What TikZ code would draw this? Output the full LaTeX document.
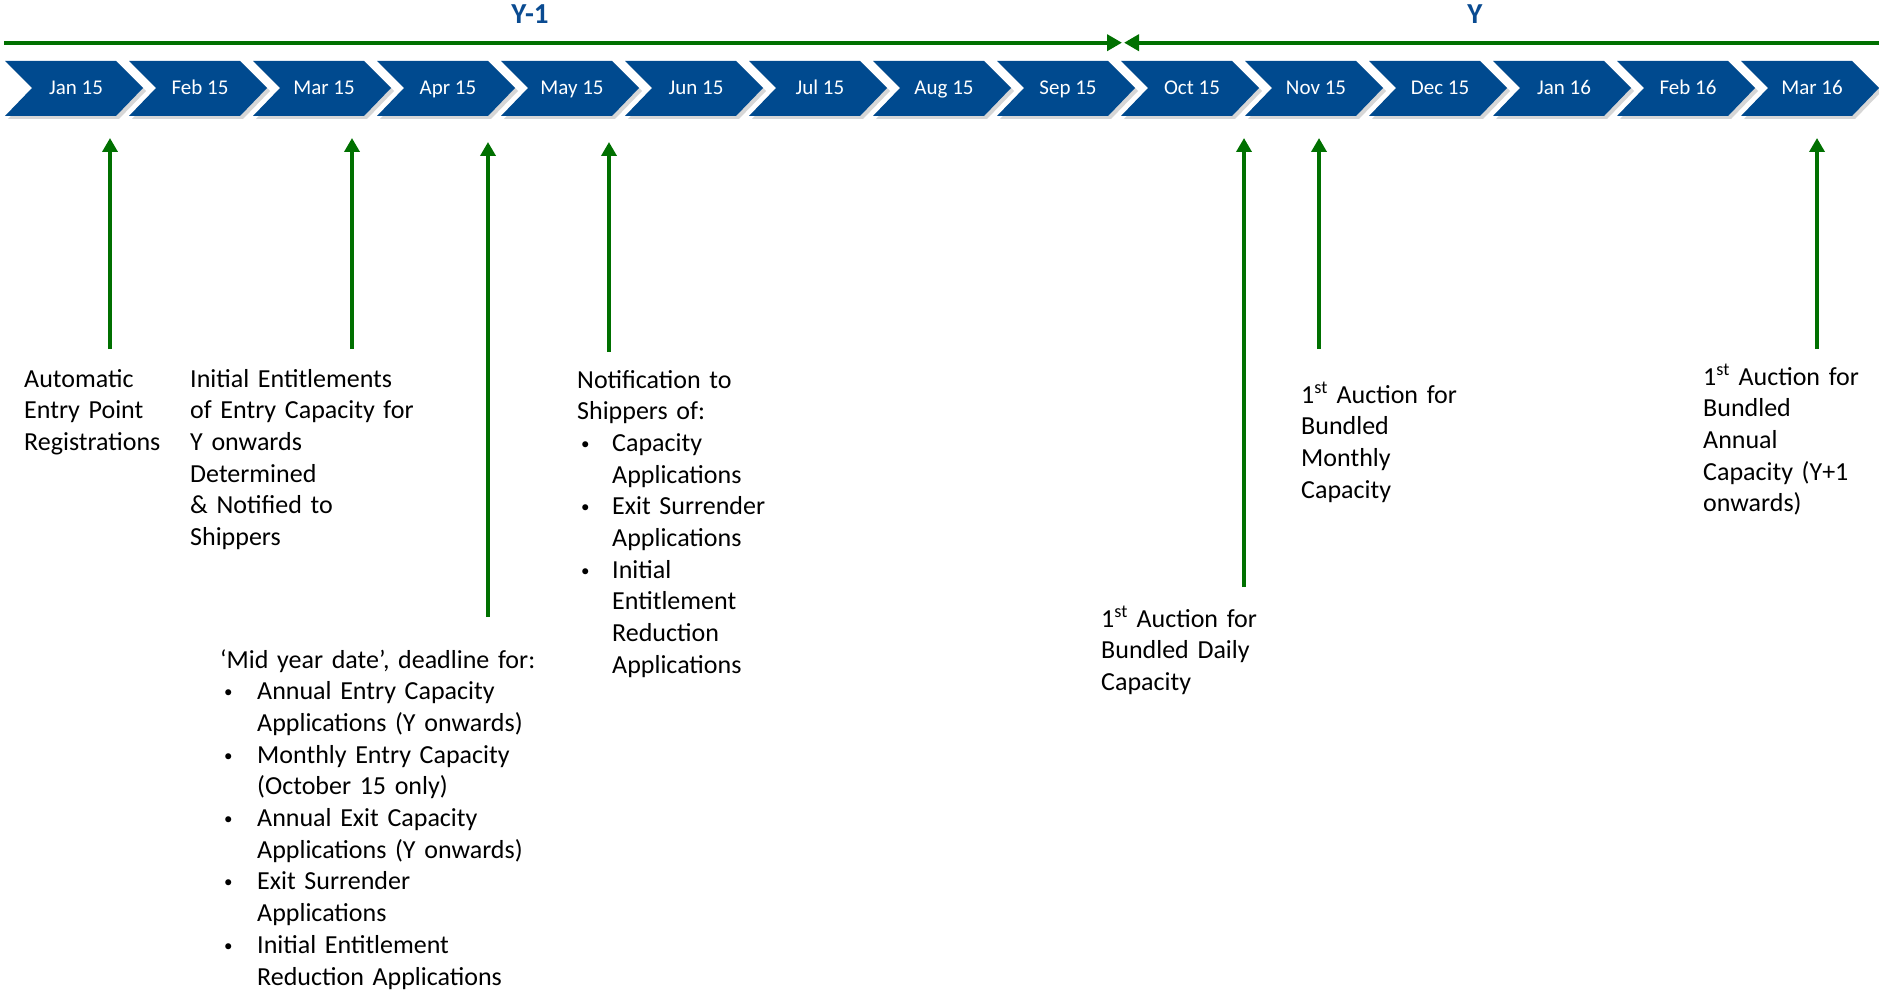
\documentclass[tikz,border=0pt]{standalone}
\usepackage{fontspec}
\setmainfont{Carlito}
\usetikzlibrary{arrows.meta}
\definecolor{chev}{RGB}{0,74,143}
\definecolor{ylab}{RGB}{10,75,145}
\definecolor{grn}{RGB}{0,112,0}
\newcommand{\smbul}{\raisebox{2pt}{\fontsize{17}{20}\selectfont\textbullet}}
\newcommand{\bitem}[1]{\hspace*{4pt}\makebox[31pt][l]{\smbul}#1}
\newcommand{\bcont}[1]{\hspace*{35pt}#1}
\newcommand{\mitem}[1]{\hspace*{4pt}\makebox[33pt][l]{\smbul}#1}
\newcommand{\mcont}[1]{\hspace*{37pt}#1}
\begin{document}
\begin{tikzpicture}[x=1pt,y=-1pt,
  month/.style={text=white,font=\fontsize{21}{25}\selectfont,inner sep=0,anchor=base},
  yr/.style={text=ylab,font=\bfseries\fontsize{29}{33}\selectfont,inner sep=0},
  lbl/.style={anchor=base west,inner sep=0,align=left,text width=#1,font=\fontsize{26}{31.7}\selectfont},
  garrow/.style={-{Triangle[width=15pt,length=14pt]},draw=grn,fill=grn,line width=3.5pt},
  yline/.style={-{Triangle[width=16pt,length=15pt]},draw=grn,fill=grn,line width=4pt}]
\useasboundingbox (0,0) rectangle (1879,995);

% year labels
\node[yr] (ym1) at (530,14) {Y-1};
\node[yr] (yy) at (1475,14) {Y};

% year line
\coordinate (ls) at (4,42.7);
\coordinate (lm1) at (1122,42.7);
\coordinate (lm2) at (1124,42.7);
\coordinate (le) at (1879,42.7);
\draw[yline] (ls) -- (lm1);
\draw[yline] (le) -- (lm2);

% chevrons
\foreach \m [count=\i from 0] in {Jan 15,Feb 15,Mar 15,Apr 15,May 15,Jun 15,Jul 15,Aug 15,Sep 15,Oct 15,Nov 15,Dec 15,Jan 16,Feb 16,Mar 16}{
  \pgfmathsetmacro\xo{5+124*\i}
  \fill[black,opacity=0.16] (\xo+3,64) -- ++(111,0) -- ++(27,27) -- ++(-27,28) -- ++(-111,0) -- ++(27,-28) -- cycle;
  \fill[chev] (\xo,61) -- ++(111,0) -- ++(27,27) -- ++(-27,28) -- ++(-111,0) -- ++(27,-28) -- cycle;
  \node[month] (m\i) at (\xo+71,95) {\m};
}

% arrows
\coordinate (a1t) at (110,138); \coordinate (a1b) at (110,349);
\coordinate (a2t) at (352,138); \coordinate (a2b) at (352,349);
\coordinate (a3t) at (488,142); \coordinate (a3b) at (488,617);
\coordinate (a4t) at (609,142); \coordinate (a4b) at (609,352);
\coordinate (a5t) at (1244,138); \coordinate (a5b) at (1244,587);
\coordinate (a6t) at (1319,138); \coordinate (a6b) at (1319,349);
\coordinate (a7t) at (1817,138); \coordinate (a7b) at (1817,349);
\foreach \k in {1,...,7}{\draw[garrow] (a\k b) -- (a\k t);}

% labels
\node[lbl=170pt] (t1) at (24,387) {Automatic\\Entry Point\\Registrations};
\node[lbl=240pt] (t2) at (190,387) {Initial Entitlements\\of Entry Capacity for\\Y onwards\\Determined\\\& Notified to\\Shippers};
\node[lbl=230pt] (t3) at (577,388) {Notification to\\Shippers of:\\\bitem{Capacity}\\\bcont{Applications}\\\bitem{Exit Surrender}\\\bcont{Applications}\\\bitem{Initial}\\\bcont{Entitlement}\\\bcont{Reduction}\\\bcont{Applications}};
\node[lbl=330pt] (t4) at (220,668) {‘Mid year date’, deadline for:\\\mitem{Annual Entry Capacity}\\\mcont{Applications (Y onwards)}\\\mitem{Monthly Entry Capacity}\\\mcont{(October 15 only)}\\\mitem{Annual Exit Capacity}\\\mcont{Applications (Y onwards)}\\\mitem{Exit Surrender}\\\mcont{Applications}\\\mitem{Initial Entitlement}\\\mcont{Reduction Applications}};
\node[lbl=200pt] (t5) at (1101,627) {1\textsuperscript{st} Auction for\\Bundled Daily\\Capacity};
\node[lbl=200pt] (t6) at (1301,403) {1\textsuperscript{st} Auction for\\Bundled\\Monthly\\Capacity};
\node[lbl=175pt] (t7) at (1703,385) {1\textsuperscript{st} Auction for\\Bundled\\Annual\\Capacity (Y+1\\onwards)};
\end{tikzpicture}
\end{document}
